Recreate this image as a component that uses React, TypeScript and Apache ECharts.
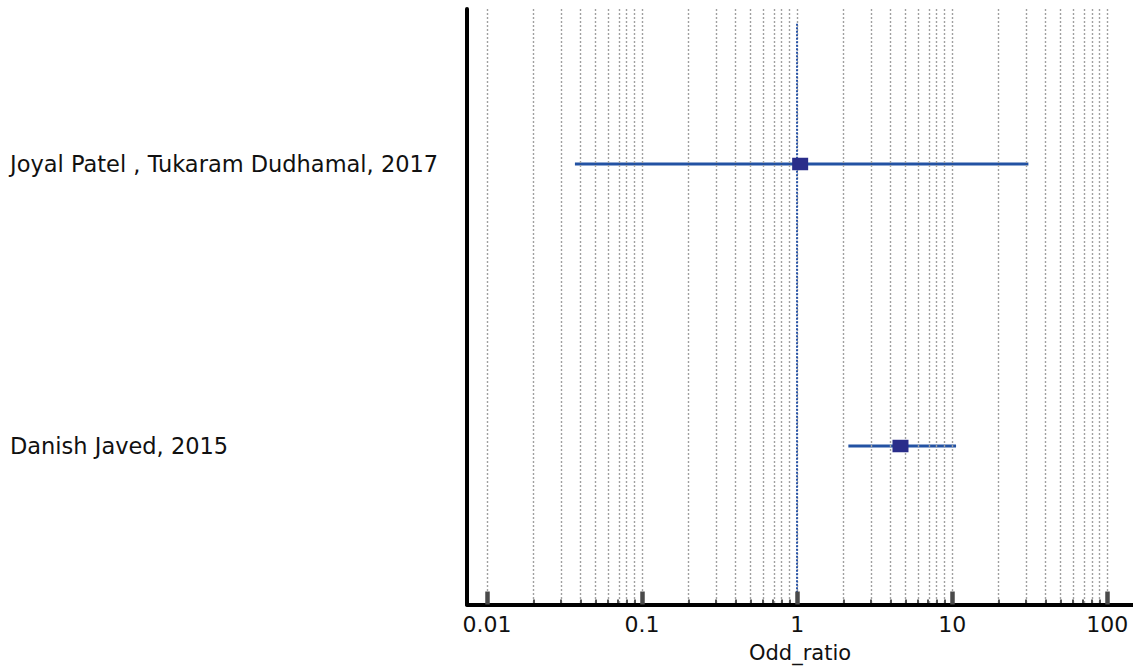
import React, { useEffect, useRef } from "react";
import * as echarts from "echarts";

const studies = ["Joyal Patel , Tukaram Dudhamal, 2017", "Danish Javed, 2015"];
const rowPositions = [1, 2];
const oddRatio = [1.046, 4.64];
const ciLower = [0.0369, 2.14];
const ciUpper = [31.0, 10.59];

const majorTicks = [0.01, 0.1, 1, 10, 100];
const majorTickLabels = ["0.01", "0.1", "1", "10", "100"];
const decades = [0.01, 0.1, 1, 10];
const minorMultipliers = [2, 3, 4, 5, 6, 7, 8, 9];
const referenceValue = 1;

const xMinLog = -2.129;
const xMaxLog = 2.166;
const yMin = 0.4504;
const yMax = 2.562;
const refTop = 0.503;

const lg = (v: number) => Math.log10(v);

export default function App() {
  const ref = useRef<HTMLDivElement>(null);
  useEffect(() => {
    if (!ref.current) return;
    const chart = echarts.init(ref.current, null, { renderer: "svg" });
    const minorValues: number[] = [];
    decades.forEach((d) => minorMultipliers.forEach((m) => minorValues.push(lg(d * m))));
    const majorValues = majorTicks.map(lg);
    const gridValues = [...majorValues, ...minorValues];
    const font = "DejaVu Sans";
    const gridTop = 9;
    const gridBottom = 61.5;

    const ciSeries = studies.map((s, i) => ({
      type: "line",
      name: s,
      xAxisIndex: 0,
      yAxisIndex: 0,
      data: [
        [lg(ciLower[i]), rowPositions[i]],
        [lg(ciUpper[i]), rowPositions[i]],
      ],
      symbol: "none",
      lineStyle: { color: "#2352a3", width: 3 },
      z: 4,
      silent: true,
    }));

    chart.setOption({
      animation: false,
      backgroundColor: "#ffffff",
      grid: {
        left: 467,
        right: 0,
        top: gridTop,
        bottom: gridBottom,
        containLabel: false,
        outerBoundsMode: "none",
      },
      xAxis: [
        {
          type: "value",
          min: xMinLog,
          max: xMaxLog,
          position: "bottom",
          z: 10,
          axisLine: { show: true, onZero: false, lineStyle: { color: "#000", width: 4 } },
          axisTick: {
            show: true,
            inside: true,
            length: 13,
            customValues: majorValues,
            lineStyle: { color: "#4a4a4a", width: 4.5 },
          },
          axisLabel: {
            show: true,
            customValues: majorValues,
            margin: 9,
            fontFamily: font,
            fontSize: 22,
            color: "#111",
            formatter: (v: number) => {
              const idx = majorValues.findIndex((m) => Math.abs(m - v) < 1e-6);
              return idx >= 0 ? majorTickLabels[idx] : "";
            },
          },
          splitLine: { show: false },
          name: "Odd_ratio",
          nameLocation: "middle",
          nameGap: 38,
          nameTextStyle: { fontFamily: font, fontSize: 21, color: "#111" },
        },
        {
          type: "value",
          min: xMinLog,
          max: xMaxLog,
          position: "top",
          offset: 0,
          z: 9,
          axisLine: { show: false, onZero: false },
          axisTick: {
            show: true,
            inside: false,
            length: 5,
            customValues: minorValues,
            lineStyle: { color: "#555", width: 2 },
          },
          axisLabel: { show: false },
          splitLine: { show: false },
        },
      ],
      yAxis: {
        type: "value",
        inverse: true,
        min: yMin,
        max: yMax,
        z: 10,
        axisLine: { show: true, onZero: false, lineStyle: { color: "#000", width: 4 } },
        axisTick: { show: false },
        splitLine: { show: false },
        axisLabel: {
          show: true,
          customValues: rowPositions,
          align: "left",
          margin: 457,
          fontFamily: font,
          fontSize: 22.5,
          color: "#111",
          formatter: (v: number) => {
            const idx = rowPositions.findIndex((r) => Math.abs(r - v) < 1e-6);
            return idx >= 0 ? studies[idx] : "";
          },
        },
      },
      series: [
        {
          type: "line",
          data: [],
          silent: true,
          z: 1,
          markLine: {
            silent: true,
            symbol: ["none", "none"],
            label: { show: false },
            lineStyle: { color: "#a0a0a0", width: 1.4, type: [2, 2] },
            data: gridValues.map((v) => ({ xAxis: v })),
          },
        },
        {
          type: "line",
          data: [],
          silent: true,
          z: 2,
          markLine: {
            silent: true,
            symbol: ["none", "none"],
            label: { show: false },
            lineStyle: { color: "#2a55a8", width: 2, type: [2, 1.5] },
            data: [
              [
                { coord: [lg(referenceValue), refTop] },
                { coord: [lg(referenceValue), yMax] },
              ],
            ],
          },
        },
        ...ciSeries,
        {
          type: "scatter",
          data: oddRatio.map((v, i) => [lg(v), rowPositions[i]]),
          symbol: "rect",
          symbolSize: [16, 12.5],
          itemStyle: { color: "#2a2d8a", opacity: 1, borderWidth: 0 },
          z: 5,
          silent: true,
        },
      ],
    });
    const pTop = chart.convertToPixel({ yAxisIndex: 0 }, yMin) as number;
    const pBottom = chart.convertToPixel({ yAxisIndex: 0 }, yMax) as number;
    chart.setOption({
      xAxis: [{}, { offset: -Math.abs(pBottom - pTop) }],
    });
    return () => chart.dispose();
  }, []);
  return (
    <div
      ref={ref}
      style={{ position: "fixed", left: 0, top: 0, width: 1133, height: 666, background: "#fff" }}
    />
  );
}
